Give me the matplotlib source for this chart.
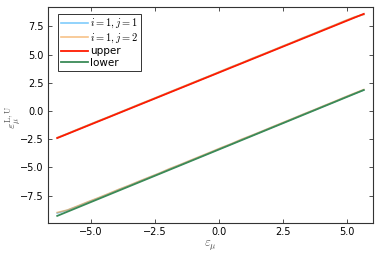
import matplotlib
matplotlib.use("Agg")
import matplotlib.pyplot as plt

# sampled eps_mu values and the two noisy branches of each series
eps = [-6.3, -5.9, -5.5, -5.1, -4.7, -4.3, -3.9, -3.5, -3.1, -2.7, -2.3,
       -1.9, -1.5, -1.1, -0.7, -0.3, 0.1, 0.5, 0.9, 1.3, 1.7, 2.1, 2.5,
       2.9, 3.3, 3.7, 4.1, 4.5, 4.9, 5.3, 5.66]

s11_up = [-2.38, -2.02, -1.64, -1.27, -0.90, -0.55, -0.17, 0.20, 0.57, 0.93, 1.30,
          1.68, 2.04, 2.40, 2.79, 3.14, 3.51, 3.90, 4.25, 4.63, 4.98, 5.36, 5.73,
          6.09, 6.48, 6.82, 7.21, 7.57, 7.95, 8.30, 8.58]
s11_lo = [-9.05, -8.80, -8.45, -8.08, -7.73, -7.36, -6.98, -6.62, -6.25, -5.88, -5.52,
          -5.13, -4.77, -4.40, -4.03, -3.66, -3.28, -2.92, -2.53, -2.17, -1.80, -1.42, -1.06,
          -0.68, -0.30, 0.06, 0.44, 0.80, 1.19, 1.55, 1.86]
s12_up = [-2.36, -2.00, -1.62, -1.25, -0.88, -0.52, -0.15, 0.22, 0.60, 0.96, 1.33,
          1.70, 2.07, 2.44, 2.80, 3.17, 3.55, 3.92, 4.27, 4.66, 5.02, 5.38, 5.76,
          6.12, 6.50, 6.86, 7.24, 7.60, 7.98, 8.34, 8.55]
s12_lo = [-9.00, -8.78, -8.42, -8.05, -7.70, -7.33, -6.95, -6.60, -6.22, -5.86, -5.50,
          -5.10, -4.75, -4.37, -4.00, -3.63, -3.25, -2.90, -2.50, -2.15, -1.78, -1.40, -1.03,
          -0.66, -0.28, 0.08, 0.46, 0.83, 1.21, 1.58, 1.90]

bounds_x = [-6.3, 5.66]
upper = [-2.40, 8.61]
lower = [-9.30, 1.86]

xticks = [-5.0, -2.5, 0.0, 2.5, 5.0]
yticks = [-7.5, -5.0, -2.5, 0.0, 2.5, 5.0, 7.5]


def main():
    plt.rcParams["mathtext.fontset"] = "cm"
    fig = plt.figure(figsize=(3.81, 2.54), dpi=100)
    ax = fig.add_axes([48 / 381, 31 / 254, 325 / 381, 216 / 254])

    blue = "#009af9"
    orange = "#f39b3a"
    ax.plot(eps, s11_up, color=blue, alpha=0.5, lw=1.2, label=r"$i = 1, j = 1$")
    ax.plot(eps, s11_lo, color=blue, alpha=0.5, lw=1.2)
    ax.plot(eps, s12_up, color=orange, alpha=0.6, lw=1.2, label=r"$i = 1, j = 2$")
    ax.plot(eps, s12_lo, color=orange, alpha=0.6, lw=1.2)
    ax.plot(bounds_x, upper, color="#ff1a00", lw=1.3, label="upper")
    ax.plot(bounds_x, lower, color="#3a8a57", lw=1.3, label="lower")

    ax.set_xlim(-6.66, 6.02)
    ax.set_ylim(-9.93, 9.22)
    ax.set_xticks(xticks)
    ax.set_yticks(yticks)
    ax.tick_params(direction="in", top=True, right=True, labelsize=7,
                   length=3, width=0.6, color="#333333", pad=3)
    for sp in ax.spines.values():
        sp.set_linewidth(0.8)
        sp.set_color("#333333")

    ax.set_xlabel(r"$\varepsilon_\mu$", fontsize=9, labelpad=1, color="#555555")
    ax.set_ylabel(r"$\varepsilon_\mu^{\mathrm{L,U}}$", fontsize=8.5, color="#555555")
    ax.yaxis.set_label_coords(-0.075, 0.49)

    leg = ax.legend(loc="upper left", bbox_to_anchor=(10 / 325, 1 - 7 / 216),
                    borderaxespad=0, fontsize=7.5, fancybox=False, framealpha=1,
                    edgecolor="#333333", handlelength=2.6, handletextpad=0.2,
                    borderpad=0.3, labelspacing=0.12)
    leg.get_frame().set_linewidth(0.7)

    fig.savefig("out.png", dpi=100)


if __name__ == '__main__':
    main()
